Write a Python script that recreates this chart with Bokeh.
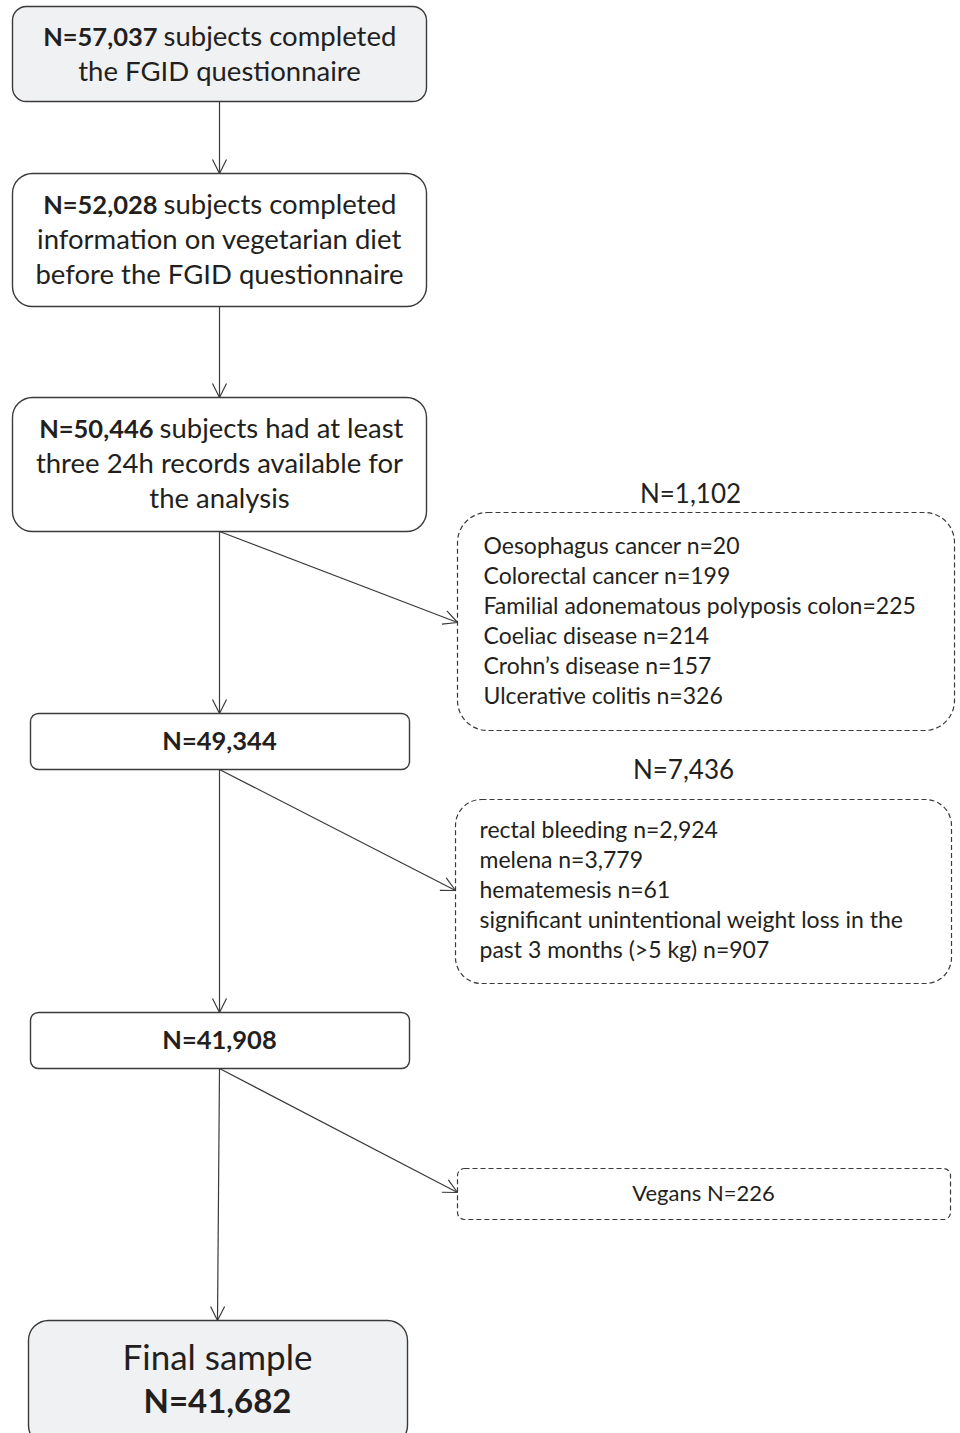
from bokeh.plotting import figure
from bokeh.models import Range1d, Arrow, OpenHead
from bokeh.core.properties import value
from bokeh.embed import file_html
from bokeh.resources import INLINE

# ---------------- data ----------------
main_counts = ["N=57,037", "N=52,028", "N=50,446", "N=49,344", "N=41,908", "N=41,682"]
main_rest_line1 = ["subjects completed", "subjects completed", "subjects had at least"]
main_other_lines = [
    ["the FGID questionnaire"],
    ["information on vegetarian diet", "before the FGID questionnaire"],
    ["three 24h records available for", "the analysis"],
]
final_label = "Final sample"

excl1_total = "N=1,102"
excl1_items = [
    "Oesophagus cancer n=20",
    "Colorectal cancer n=199",
    "Familial adonematous polyposis colon=225",
    "Coeliac disease n=214",
    "Crohn\u2019s disease  n=157",
    "Ulcerative colitis n=326",
]
excl2_total = "N=7,436"
excl2_items = [
    "rectal bleeding n=2,924",
    "melena n=3,779",
    "hematemesis n=61",
    "significant unintentional weight loss in the",
    "past 3 months (>5 kg) n=907",
]
excl3_label = "Vegans N=226"

# ---------------- layout ----------------
FONT = "Lato"
TXT = "#231f20"
EDGE = "#3a3a3a"
GRAY = "#f0f1f3"

# boxes: left, right, top, bottom, fill, radius, dashed
boxes = [
    (12, 426, 6, 101, GRAY, 14, False),
    (12, 426, 173, 306, "white", 20, False),
    (12, 426, 397, 531, "white", 20, False),
    (30, 409, 713, 769, "white", 8, False),
    (30, 409, 1012, 1068, "white", 8, False),
    (28, 407, 1320, 1445, GRAY, 20, False),
    (457, 954, 512, 730, "white", 30, True),
    (455, 951, 799, 983, "white", 26, True),
    (457, 950, 1168, 1219, "white", 7, True),
]

W, H = 960, 1433
p = figure(width=W, height=H, output_backend="svg", toolbar_location=None,
           x_range=Range1d(0, W), y_range=Range1d(H, 0),
           min_border=0, outline_line_color=None, background_fill_color="white",
           border_fill_color="white")
p.axis.visible = False
p.grid.visible = False

for (l, r, t, b, fill, rad, dashed) in boxes:
    p.quad(left=[l], right=[r], top=[t], bottom=[b], fill_color=fill,
           line_color=EDGE, line_width=1.4 if not dashed else 1.2,
           line_dash="5 3" if dashed else "solid", border_radius=rad)

# arrows (start -> end)
arrows = [
    (219, 101, 219, 173),
    (219, 306, 219, 397),
    (219, 531, 219, 713),
    (219, 769, 219, 1012),
    (219, 1068, 217, 1320),
    (219, 531, 457, 622),
    (219, 769, 455, 890),
    (219, 1068, 457, 1192),
]
for (xs, ys, xe, ye) in arrows:
    p.add_layout(Arrow(x_start=xs, y_start=ys, x_end=xe, y_end=ye,
                       line_color=EDGE, line_width=1.2,
                       end=OpenHead(size=14, line_color=EDGE, line_width=1.2)))

BOLD_SIZE = "25.5px"
MAIN_SIZE = "27.5px"
LIST_SIZE = "23px"

def txt(x, y, s, size, align="left", bold=False):
    p.text(x=[x], y=[y], text=[s], text_font=value(FONT), text_font_size=size,
           text_align=align, text_baseline="middle", text_color=TXT,
           text_font_style="bold" if bold else "normal", y_offset=-2)

# first three boxes: bold count + normal remainder on line 1
split = [(157, 163, 37), (157, 163, 205), (153, 159, 429)]
for i in range(3):
    bx, nx, y0 = split[i]
    txt(bx, y0, main_counts[i], BOLD_SIZE, "right", True)
    txt(nx, y0, main_rest_line1[i], MAIN_SIZE, "left")
    for j, line in enumerate(main_other_lines[i]):
        txt(219, y0 + 35 * (j + 1), line, MAIN_SIZE, "center")

txt(219, 741, main_counts[3], BOLD_SIZE, "center", True)
txt(219, 1040, main_counts[4], BOLD_SIZE, "center", True)
txt(217, 1357, final_label, "35px", "center")
txt(217, 1401, main_counts[5], "33px", "center", True)

# exclusion boxes
txt(690, 494, excl1_total, "26px", "center")
for k, s in enumerate(excl1_items):
    txt(483, 546 + 30 * k, s, LIST_SIZE, "left")
txt(683, 770, excl2_total, "26px", "center")
for k, s in enumerate(excl2_items):
    txt(479, 830 + 30 * k, s, LIST_SIZE, "left")
txt(703, 1194, excl3_label, "22px", "center")

open("out.html", "w").write(file_html(p, INLINE))
